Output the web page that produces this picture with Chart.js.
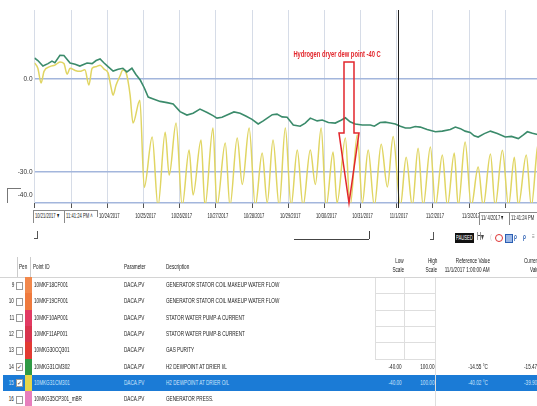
<!DOCTYPE html>
<html>
<head>
<meta charset="utf-8">
<script src="https://cdn.jsdelivr.net/npm/chart.js@4.4.1/dist/chart.umd.min.js"></script>
<style>
body { margin:0; width:537px; height:406px; overflow:hidden; background:#fff; position:relative;
  font-family:'Liberation Sans',Arial,sans-serif; color:#1a1a1a; }
#wrap { position:absolute; left:0; top:0; width:541px; height:233px; }
.a { position:absolute; white-space:nowrap; font-size:8px; line-height:10px; transform:scaleX(0.58); transform-origin:0 50%; }
.r { text-align:right; transform-origin:100% 50%; }
.sm { font-size:7.5px; transform:scaleX(0.55); }
.ln { position:absolute; }
.box { position:absolute; border:1px solid #8a8a8a; border-bottom:none; height:12px; background:#fff; }
.cb { position:absolute; width:5px; height:6px; border:1px solid #999; background:#fff; font-size:6px; line-height:6px; text-align:center; color:#333; }
</style>
</head>
<body>
<div id="wrap"><canvas id="trend"></canvas></div>
<script>
// os X: dni od 10/22/2017 00:00
const xTickLabels = ['10/22/2017','10/23/2017','10/24/2017','10/25/2017','10/26/2017','10/27/2017','10/28/2017',
  '10/29/2017','10/30/2017','10/31/2017','11/1/2017','11/2/2017','11/3/2017','11/4/2017'];
const yTickValues = [-40, -30, 0];
const startDay = -0.0129, endDay = 13.987;   // 10/21 11:41:24 PM .. 11/4 11:41:24 PM
const cursorDay = 10 + 1 / 24;               // 11/1/2017 1:00 AM

// H2 dew point at drier I/L (zielona)
const greenDays = [-0.013,0.08,0.22,0.36,0.47,0.55,0.69,0.80,0.97,1.11,1.24,1.36,1.44,1.58,1.69,1.80,1.91,2.02,2.16,2.30,
  2.43,2.54,2.68,2.79,2.91,3.02,3.13,3.29,3.46,3.65,3.82,4.01,4.20,4.37,4.56,4.76,4.92,5.03,5.17,5.34,5.50,5.67,5.84,6.00,
  6.17,6.31,6.42,6.56,6.69,6.83,6.97,7.14,7.33,7.47,7.61,7.80,7.94,8.11,8.30,8.46,8.58,8.71,8.85,9.05,9.27,9.38,9.54,9.68,
  9.82,9.96,10.10,10.24,10.37,10.51,10.65,10.84,11.07,11.26,11.48,11.62,11.76,11.89,12.03,12.14,12.25,12.42,12.59,12.78,
  13.00,13.17,13.36,13.50,13.61,13.75,13.89,13.987];
const greenVals = [6.8,6.0,4.2,5.0,5.8,5.3,7.7,7.6,5.2,4.8,4.2,4.8,5.2,5.0,6.0,6.5,5.2,4.0,2.6,3.2,
  3.5,2.3,3.5,1.5,-0.3,-2.8,-5.8,-6.5,-7.2,-7.6,-8.0,-10.5,-11.6,-11.0,-9.7,-10.8,-11.8,-12.6,-12.3,-11.4,-10.6,-11.0,-12.0,-13.0,
  -14.5,-13.5,-12.6,-11.5,-11.3,-12.2,-12.3,-14.8,-15.2,-14.2,-12.6,-13.5,-13.2,-14.0,-14.2,-13.3,-12.5,-13.8,-14.5,-14.8,-14.8,-15.2,-14.0,-13.9,
  -14.2,-14.5,-15.2,-15.8,-15.8,-15.3,-15.5,-16.3,-17.0,-16.8,-16.3,-15.5,-16.0,-16.8,-17.2,-18.3,-18.7,-17.6,-16.8,-17.6,
  -18.7,-18.5,-19.2,-18.0,-17.0,-17.5,-17.9,-18.0];

// H2 dew point at drier O/L (zolta)
const yellowDays = [-0.013,0.08,0.17,0.25,0.41,0.55,0.69,0.80,0.89,0.97,1.11,1.24,1.38,1.49,1.58,1.69,1.80,1.91,2.02,2.10,
  2.16,2.24,2.35,2.43,2.52,2.57,2.63,2.71,2.90,3.02,3.24,3.40,3.60,3.71,3.90,4.07,4.26,4.37,4.59,4.70,4.92,5.03,5.26,5.39,
  5.59,5.73,5.92,6.09,6.28,6.42,6.58,6.75,6.92,7.08,7.25,7.41,7.61,7.75,7.91,8.05,8.24,8.35,8.58,8.71,8.91,9.05,9.21,9.38,
  9.57,9.74,9.90,10.10,10.26,10.43,10.59,10.73,10.93,11.07,11.26,11.40,11.59,11.70,11.89,12.06,12.25,12.39,12.59,12.72,
  12.92,13.09,13.25,13.36,13.58,13.72,13.89,13.987];
const yellowVals = [5.2,3.5,-1.3,2.5,4.0,4.5,5.5,5.0,1.6,3.5,2.8,2.5,3.0,-1.9,3.5,4.0,4.5,3.2,2.0,-2.5,
  -5.2,-2.0,1.0,2.9,2.0,-0.5,-5.2,-14.2,-6.8,-35,-18.7,-41,-17.2,-31,-14.2,-41,-22.9,-37.4,-19.7,-41,-15.8,-41,-20.6,-41,
  -19.0,-34,-15.8,-41,-23.9,-40,-19.7,-41,-15.8,-41,-22.9,-41,-22.9,-34,-15.8,-41,-23.5,-40,-19.0,-41,-18.0,-40,-22.9,-41,
  -21.0,-34.8,-18.5,-41,-25.2,-41,-22.3,-41,-21.9,-41,-24.5,-41,-23.9,-41,-20.3,-41,-28.4,-41,-24.2,-41,
  -23.0,-41,-25.2,-41,-24.5,-41,-22.0,-20.0];

// adnotacja
const noteText = 'Hydrogen dryer dew point -40 C';
const noteDay = 8.35, noteVal = 7.8;
const arrowDay = 8.68, arrowTop = 5.5, arrowNeck = -17.4, arrowTip = -40;

const fam = "'Liberation Sans',Arial,sans-serif";

// waskie etykiety osi X (jak w oryginale), na pozycjach z osi
const narrowTicks = {
  id: 'narrowTicks',
  afterDraw(chart) {
    const { ctx, chartArea: a, scales: { x } } = chart;
    ctx.save();
    ctx.fillStyle = '#222';
    ctx.font = '7.5px ' + fam;
    ctx.textAlign = 'center';
    ctx.textBaseline = 'middle';
    x.ticks.forEach((t, i) => {
      if (i < 2 || i > 12) return;
      ctx.save();
      ctx.translate(x.getPixelForValue(t.value) + 2, a.bottom + 12.5);
      ctx.scale(0.55, 1);
      ctx.fillText(xTickLabels[i], 0, 0);
      ctx.restore();
    });
    ctx.restore();
  }
};

const overlay = {
  id: 'overlay',
  afterDatasetsDraw(chart) {
    const { ctx, chartArea: a, scales: { x, y } } = chart;
    ctx.save();
    const cx = Math.round(x.getPixelForValue(cursorDay)) + 0.5;
    ctx.strokeStyle = '#222';
    ctx.lineWidth = 1;
    ctx.beginPath(); ctx.moveTo(cx, a.top); ctx.lineTo(cx, a.bottom + 5); ctx.stroke();

    const ax = x.getPixelForValue(arrowDay);
    const t = y.getPixelForValue(arrowTop), m = y.getPixelForValue(arrowNeck), b = y.getPixelForValue(arrowTip);
    ctx.strokeStyle = '#e2262c';
    ctx.lineWidth = 1.5;
    ctx.beginPath();
    ctx.moveTo(ax - 5, t); ctx.lineTo(ax + 5, t); ctx.lineTo(ax + 5, m); ctx.lineTo(ax + 10, m);
    ctx.lineTo(ax, b); ctx.lineTo(ax - 10, m); ctx.lineTo(ax - 5, m); ctx.closePath();
    ctx.stroke();

    ctx.translate(x.getPixelForValue(noteDay), y.getPixelForValue(noteVal));
    ctx.scale(0.68, 1);
    ctx.fillStyle = '#e2262c';
    ctx.font = 'bold 8.5px ' + fam;
    ctx.textAlign = 'center';
    ctx.textBaseline = 'middle';
    ctx.fillText(noteText, 0, 0);
    ctx.restore();
  }
};

new Chart(document.getElementById('trend').getContext('2d'), {
  type: 'line',
  data: {
    datasets: [{
      data: greenDays.map((d, i) => ({ x: d, y: greenVals[i] })),
      borderColor: '#3b8b6b', borderWidth: 1.6, pointRadius: 0, tension: 0
    }, {
      data: yellowDays.map((d, i) => ({ x: d, y: yellowVals[i] })),
      borderColor: '#e0d562', borderWidth: 1.5, pointRadius: 0, cubicInterpolationMode: 'monotone'
    }]
  },
  options: {
    responsive: true, maintainAspectRatio: false, animation: false, devicePixelRatio: 1,
    layout: { padding: { top: 10, left: 0, right: 0, bottom: 0 } },
    plugins: { legend: { display: false }, tooltip: { enabled: false } },
    scales: {
      x: {
        type: 'linear', min: startDay, max: endDay,
        afterFit: s => { s.height = 30; },
        afterBuildTicks: s => { s.ticks = xTickLabels.map((_, i) => ({ value: i })); },
        border: { display: false },
        grid: { color: '#d6dce7', lineWidth: 1, tickColor: '#555', tickLength: 5 },
        ticks: { autoSkip: false, maxRotation: 0, callback: () => '' }
      },
      y: {
        min: -40, max: 22.3,
        afterFit: s => { s.width = 34.5; },
        afterBuildTicks: s => { s.ticks = yTickValues.map(v => ({ value: v })); },
        border: { display: false },
        grid: { color: '#a3b6dc', lineWidth: 1.5, drawTicks: false },
        ticks: { padding: 2, color: '#333', font: { family: fam, size: 6.5 },
          callback: v => v === -40 ? ['-40.0', '', ''] : v.toFixed(1) }
      }
    }
  },
  plugins: [overlay, narrowTicks]
});

// tabela pisakow
const rowNums = [9, 10, 11, 12, 13, 14, 15, 16];
const pointIds = ['10MKF18CF001', '10MKF19CF001', '10MKF10AP001', '10MKF11AP001', '10MKG30CQ301', '10MKG31CM302', '10MKG31CM301', '10MKG35CP301_mBR'];
const params = ['DACA.PV', 'DACA.PV', 'DACA.PV', 'DACA.PV', 'DACA.PV', 'DACA.PV', 'DACA.PV', 'DACA.PV'];
const descs = ['GENERATOR STATOR COIL MAKEUP WATER FLOW', 'GENERATOR STATOR COIL MAKEUP WATER FLOW', 'STATOR WATER PUMP-A CURRENT',
  'STATOR WATER PUMP-B CURRENT', 'GAS PURITY', 'H2 DEWPOINT AT DRIER I/L', 'H2 DEWPOINT AT DRIER O/L', 'GENERATOR PRESS.'];
const penColors = ['#f2884c', '#ef7a3e', '#e23a63', '#d8344e', '#e23b33', '#2f9a45', '#e6d64a', '#e77fbd'];
const checked = [0, 0, 0, 0, 0, 1, 1, 0];
const lowScale = ['', '', '', '', '', '-40.00', '-40.00', ''];
const highScale = ['', '', '', '', '', '100.00', '100.00', ''];
const refValues = ['', '', '', '', '', '-14.55 \u00b0C', '-40.02 \u00b0C', ''];
const curValues = ['', '', '', '', '', '-15.47 \u00b0C', '-39.90 \u00b0C', ''];
const selectedRow = 6;

const W = 537;
function el(cls, css, text) {
  const d = document.createElement('div');
  d.className = cls;
  Object.assign(d.style, css);
  if (text !== undefined) d.textContent = text;
  document.body.appendChild(d);
  return d;
}
function txt(x, y, s, color, cls) { return el('a' + (cls ? ' ' + cls : ''), { left: x + 'px', top: y + 'px', color: color || '#1a1a1a' }, s); }
function rtxt(x, y, s, color) { return el('a r', { right: (W - x) + 'px', top: y + 'px', color: color || '#1a1a1a' }, s); }
function hline(x, y, w, c) { return el('ln', { left: x + 'px', top: y + 'px', width: w + 'px', height: '1px', background: c }); }
function vline(x, y, h, c) { return el('ln', { left: x + 'px', top: y + 'px', width: '1px', height: h + 'px', background: c }); }

// pod wykresem
el('ln', { left: '7px', top: '188px', width: '13px', height: '14px', borderTop: '1px solid #777', borderLeft: '1px solid #777' });
el('box', { left: '33px', top: '210px', width: '30px' });
txt(35, 211, '10/21/2017  \u25be', null, 'sm');
el('box', { left: '64px', top: '210px', width: '33px', borderRight: 'none' });
txt(66, 211, '11:41:24 PM \u02c4', null, 'sm');
vline(97, 210, 7, '#8a8a8a');
el('ln', { left: '34px', top: '231px', width: '3px', height: '7px', borderRight: '1px solid #555', borderBottom: '1px solid #555' });
hline(294, 239, 75, '#444');
vline(369, 231, 8, '#444');
el('ln', { left: '430px', top: '232px', width: '3px', height: '7px', borderRight: '1px solid #555', borderBottom: '1px solid #555' });
el('ln', { left: '455px', top: '233px', width: '19px', height: '10px', background: '#111' });
txt(456, 233, 'PAUSED', '#fff', 'sm');
const h = txt(477, 232, 'H\u25be', '#444'); h.style.fontSize = '10px';
txt(490, 233, '\u27e8', '#bbb');
el('ln', { left: '495px', top: '234px', width: '6px', height: '6px', border: '1.5px solid #d33', borderRadius: '50%' });
el('ln', { left: '505px', top: '234px', width: '6px', height: '7px', border: '1px solid #2b5fb3', background: '#9cb8e6' });
txt(514, 232, '\u03c1', '#2b5fb3').style.fontWeight = 'bold';
txt(523, 232, '\u03c1', '#2b5fb3').style.fontWeight = 'bold';
txt(532, 232, '\u2261', '#888');
el('box', { left: '479px', top: '212px', width: '29px' });
txt(481, 213, '11/ 4/2017 \u25be', null, 'sm');
el('box', { left: '509px', top: '212px', width: '40px' });
txt(511, 213, '11:41:24 PM', null, 'sm');

// naglowek tabeli
vline(17, 257, 20, '#ccc');
vline(30, 257, 20, '#ccc');
txt(19, 262, 'Pen');
txt(33, 262, 'Point ID');
txt(124, 262, 'Parameter');
txt(166, 262, 'Description');
rtxt(404, 256, 'Low'); rtxt(404, 265, 'Scale');
rtxt(437, 256, 'High'); rtxt(437, 265, 'Scale');
rtxt(490, 256, 'Reference Value'); rtxt(490, 265, '11/1/2017 1:00:00 AM');
txt(524, 256, 'Current'); txt(530, 265, 'Value');
hline(0, 277, W, '#d4d4d4');

const rowH = 16.3, row0 = 277;
rowNums.forEach((n, i) => {
  const top = row0 + i * rowH;
  const sel = i === selectedRow;
  const fg = sel ? '#cfe5fb' : '#1a1a1a';
  if (sel) el('ln', { left: '3px', top: top + 'px', width: (W - 3) + 'px', height: rowH + 'px', background: '#1b7bd6' });
  if (i < 6) {
    hline(375, Math.round(top + rowH), 60, '#dedede');
  }
  rtxt(14, top + 3, String(n), fg);
  el('cb', { left: '16px', top: (top + 4.5) + 'px' }, checked[i] ? '\u2713' : '');
  el('ln', { left: '25px', top: top + 'px', width: '7px', height: (rowH + 0.5) + 'px', background: penColors[i] });
  txt(34, top + 3, pointIds[i], fg);
  txt(124, top + 3, params[i], fg);
  txt(166, top + 3, descs[i], fg);
  if (lowScale[i]) rtxt(402, top + 3, lowScale[i], fg);
  if (highScale[i]) rtxt(434, top + 3, highScale[i], fg);
  if (refValues[i]) rtxt(488, top + 3, refValues[i], fg);
  if (curValues[i]) txt(524, top + 3, curValues[i], fg);
});
vline(375, 278, 82, '#dedede');
vline(404, 278, 82, '#dedede');
vline(435, 278, 128, '#dedede');
</script>
</body>
</html>
